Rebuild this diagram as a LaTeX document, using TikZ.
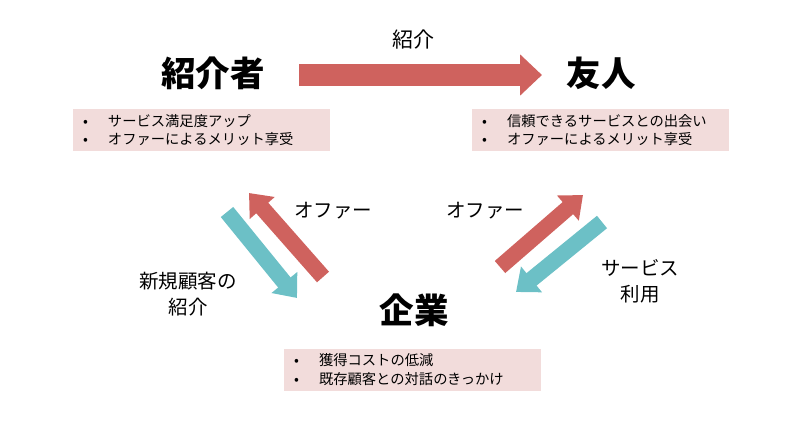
\documentclass[tikz,border=0pt]{standalone}
\usepackage{fontspec}
\setmainfont{Noto Sans CJK JP}
\usetikzlibrary{arrows.meta,positioning}
\definecolor{arrowred}{HTML}{CF625E}
\definecolor{arrowteal}{HTML}{6CC0C6}
\definecolor{notefill}{HTML}{F2DCDB}
\newcommand\noteitem[1]{\makebox[25pt][l]{•}#1}
\tikzset{
  actor/.style={font=\fontsize{34.5}{34}\selectfont\bfseries, inner sep=0pt},
  notebox/.style={fill=notefill, minimum width=257pt, minimum height=42pt,
    text width=237pt, inner xsep=10pt, align=left,
    font=\fontsize{14.3}{18.5}\selectfont},
  flowlabel/.style={font=\fontsize{19.5}{26}\selectfont, align=center, inner sep=0pt},
  bigarrow/.style={line width=22pt, -{Triangle[length=22pt,width=40pt]}},
  flowarrow/.style={line width=16pt, -{Triangle[length=20pt,width=32pt]}},
}
\begin{document}
\begin{tikzpicture}[x=1pt,y=-1pt]
  \useasboundingbox (0,0) rectangle (800,431);
  % actors
  \node[actor] (referrer) at (213,73) {紹介者};
  \node[actor] (friend) at (601,73) {友人};
  \node[actor] (company) at (414,310) {企業};
  % benefits
  \node[notebox] (referrer note) at (201.5,130) {\noteitem{サービス満足度アップ}\\\noteitem{オファーによるメリット享受}};
  \node[notebox] (friend note) at (600.5,130) {\noteitem{信頼できるサービスとの出会い}\\\noteitem{オファーによるメリット享受}};
  \node[notebox] (company note) at (412.5,369.5) {\noteitem{獲得コストの低減}\\\noteitem{既存顧客との対話のきっかけ}};
  % flows
  \coordinate (intro start) at (299,75);
  \coordinate (intro end) at (542,75);
  \draw[bigarrow, arrowred] (intro start) -- (intro end);
  \node[flowlabel, font=\fontsize{21}{26}\selectfont] (intro label) at (413,40) {紹介};

  \coordinate (offer a start) at (323,277);
  \coordinate (offer a end) at (249,193);
  \coordinate (lead start) at (227,212);
  \coordinate (lead end) at (297,298);
  \draw[flowarrow, arrowred] (offer a start) -- (offer a end);
  \draw[flowarrow, arrowteal] (lead start) -- (lead end);
  \node[flowlabel] (offer a label) at (333,211) {オファー};
  \node[flowlabel] (lead label) at (188,294) {新規顧客の\\紹介};

  \coordinate (offer b start) at (500,267);
  \coordinate (offer b end) at (583,195);
  \coordinate (use start) at (602,222);
  \coordinate (use end) at (516,292);
  \draw[flowarrow, arrowred] (offer b start) -- (offer b end);
  \draw[flowarrow, arrowteal] (use start) -- (use end);
  \node[flowlabel] (offer b label) at (485,211) {オファー};
  \node[flowlabel] (use label) at (640,281) {サービス\\利用};
\end{tikzpicture}
\end{document}
